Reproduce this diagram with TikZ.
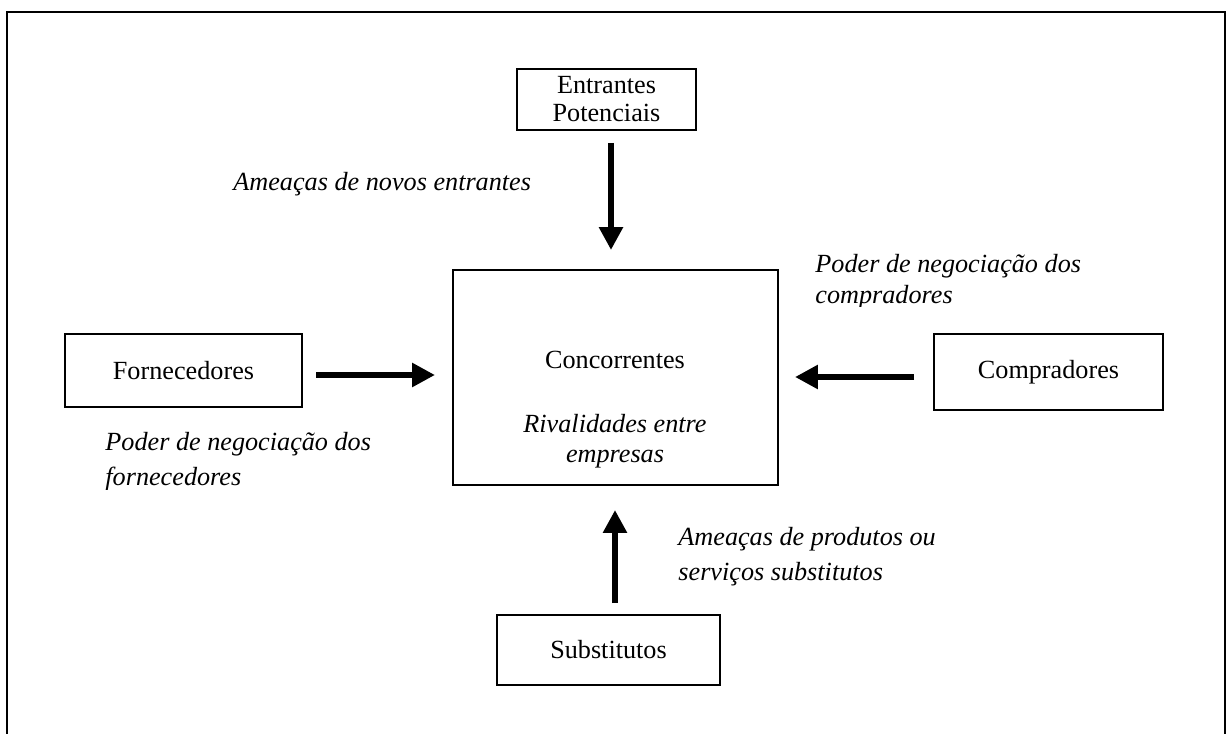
\documentclass[tikz,border=0pt]{standalone}
\usepackage{fontspec}
\setmainfont{Liberation Serif}
\usetikzlibrary{arrows.meta}

\newcommand{\pxu}{0.458pt}
\newcommand{\twelve}[1]{\fontsize{12}{#1}\selectfont}
\tikzset{
  box/.style={draw, line width=0.7pt, inner sep=0pt, align=center},
  force/.style={line width=3.2pt, -{Triangle[length=10.5pt,width=10.5pt]}},
  lbl/.style={font=\itshape\twelve{16}, anchor=base west, align=left, inner sep=0pt},
}

\begin{document}
\begin{tikzpicture}[x=\pxu, y=-\pxu, font=\twelve{16}]
    \useasboundingbox (0,0) rectangle (1227,734);
    \draw[line width=0.9pt] (7,745) -- (7,12) -- (1225,12) -- (1225,745);
    % the five forces
    \node[box, minimum width=179*\pxu, minimum height=61*\pxu,
          font=\twelve{12.8}] (ent) at (606.5,99.5) {Entrantes\\Potenciais};
    \node[box, minimum width=325*\pxu, minimum height=215*\pxu] (conc) at (615.5,377.5) {};
    \node[box, minimum width=237*\pxu, minimum height=73*\pxu] (forn) at (183.5,370.5) {Fornecedores};
    \node[box, minimum width=229*\pxu, minimum height=76*\pxu] (comp) at (1048.5,372) {Compradores};
    \node[box, minimum width=223*\pxu, minimum height=70*\pxu] (subs) at (608.5,650) {Substitutos};
    \node[anchor=base, inner sep=0pt] (cname) at (615,368) {Concorrentes};
    \node[anchor=base, inner sep=0pt, align=center, font=\itshape\twelve{13.7}]
          (riv) at (615,462) {Rivalidades entre\\empresas};
    % arrows
    \coordinate (n1) at (611,143);
    \coordinate (n2) at (611,250);
    \coordinate (w1) at (316,375);
    \coordinate (w2) at (435,375);
    \coordinate (e1) at (914,377);
    \coordinate (e2) at (795,377);
    \coordinate (s1) at (615,603);
    \coordinate (s2) at (615,510);
    \draw[force] (n1) -- (n2);
    \draw[force] (w1) -- (w2);
    \draw[force] (e1) -- (e2);
    \draw[force] (s1) -- (s2);
    % labels
    \node[lbl] (lent) at (233,190) {Ameaças de novos entrantes};
    \begin{scope}
        \clip (800,240) rectangle (1110,306);
        \node[lbl, font=\itshape\twelve{14.2}] (lcomp) at (815,304)
              {Poder de negociação dos\\compradores};
    \end{scope}
    \begin{scope}
        \clip (90,420) rectangle (400,489);
        \node[lbl] (lforn) at (105,485) {Poder de negociação dos\\fornecedores};
    \end{scope}
    \node[lbl] (lsubs) at (678,580) {Ameaças de produtos ou\\serviços substitutos};
\end{tikzpicture}
\end{document}
